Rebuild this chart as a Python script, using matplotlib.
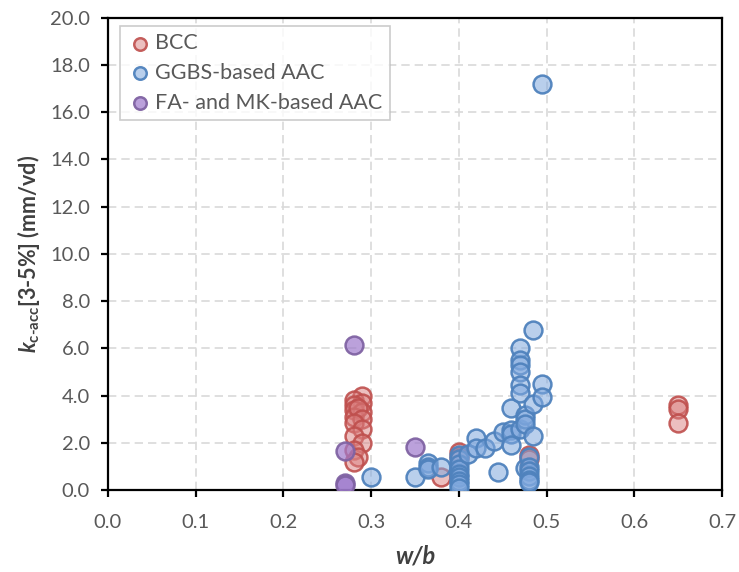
import matplotlib.pyplot as plt
from matplotlib.ticker import MultipleLocator, FormatStrFormatter

plt.rcParams.update({
    'font.family': ['Lato', 'DejaVu Sans'],
    'mathtext.fontset': 'custom',
    'mathtext.rm': 'Lato:bold',
    'mathtext.it': 'Lato:italic:bold',
    'mathtext.bf': 'Lato:bold',
})

# BCC
bcc_x = [0.29, 0.28, 0.29, 0.28, 0.28, 0.29, 0.28, 0.285, 0.29, 0.28, 0.29, 0.28,
         0.29, 0.28, 0.285, 0.28, 0.38, 0.40, 0.40, 0.48, 0.48, 0.65, 0.65, 0.65]
bcc_y = [4.0, 3.8, 3.7, 3.6, 3.4, 3.3, 3.1, 3.5, 3.0, 2.85, 2.6, 2.3,
         2.0, 1.7, 1.4, 1.2, 0.55, 1.6, 1.4, 1.5, 1.3, 3.6, 3.45, 2.85]

# GGBS-based AAC
ggbs_x = [0.30, 0.35, 0.365, 0.365, 0.365, 0.38,
          0.40, 0.40, 0.40, 0.40, 0.40, 0.40, 0.40, 0.40, 0.40,
          0.41, 0.42, 0.42, 0.43, 0.44, 0.445, 0.45, 0.46, 0.46, 0.46, 0.46,
          0.47, 0.47, 0.47, 0.47, 0.47, 0.47, 0.47,
          0.475, 0.475, 0.475, 0.475,
          0.48, 0.48, 0.48, 0.48, 0.48, 0.48,
          0.485, 0.485, 0.485, 0.495, 0.495, 0.495]
ggbs_y = [0.55, 0.55, 1.15, 1.0, 0.9, 1.0,
          1.5, 1.3, 1.1, 0.9, 0.7, 0.55, 0.4, 0.25, 0.1,
          1.55, 2.2, 1.8, 1.8, 2.1, 0.75, 2.45, 2.55, 2.4, 3.5, 1.9,
          6.0, 5.5, 5.3, 5.0, 4.45, 4.1, 2.6,
          3.2, 3.0, 2.8, 0.95,
          1.4, 1.0, 0.8, 0.6, 0.45, 0.35,
          6.8, 3.65, 2.3, 17.2, 4.5, 3.95]

# FA- and MK-based AAC
fa_x = [0.28, 0.27, 0.27, 0.27, 0.35]
fa_y = [6.15, 1.65, 0.3, 0.2, 1.85]

series = [
    (bcc_x, bcc_y, 'BCC', (0.86, 0.50, 0.50, 0.5), (0.75, 0.31, 0.30, 0.9)),
    (ggbs_x, ggbs_y, 'GGBS-based AAC', (0.50, 0.66, 0.87, 0.55), (0.31, 0.51, 0.74, 0.95)),
    (fa_x, fa_y, 'FA- and MK-based AAC', (0.62, 0.48, 0.80, 0.7), (0.50, 0.39, 0.64, 0.95)),
]

fig = plt.figure(figsize=(7.39, 5.72), dpi=100)
ax = fig.add_axes([0.146, 0.143, 0.831, 0.826])

for x, y, label, fc, ec in series:
    ax.scatter(x, y, s=165, facecolor=fc, edgecolor=ec, linewidth=1.8, label=label, zorder=3)

ax.set_xlim(0, 0.7)
ax.set_ylim(0, 20)
ax.xaxis.set_major_locator(MultipleLocator(0.1))
ax.yaxis.set_major_locator(MultipleLocator(2))
ax.xaxis.set_major_formatter(FormatStrFormatter('%.1f'))
ax.yaxis.set_major_formatter(FormatStrFormatter('%.1f'))
ax.grid(True, color='#d9d9d9', linestyle=(0, (5, 3)), linewidth=1.2, zorder=0)
ax.set_axisbelow(True)
for sp in ax.spines.values():
    sp.set_linewidth(1.6)
    sp.set_color('black')
ax.tick_params(direction='out', length=5, width=1.6, labelsize=14.5, labelcolor='#595959', pad=8)
ax.tick_params(axis='x', pad=12)

ax.set_xlabel('w/b', fontsize=17, fontweight='bold', fontstyle='italic', color='#404040', labelpad=10)
ax.set_ylabel(r'$k_{\text{c-acc}}$[3-5%] (mm/vd)', fontsize=15.5, fontweight='bold',
              color='#404040', labelpad=6)

leg = ax.legend(loc='upper left', bbox_to_anchor=(0.012, 0.992), fontsize=15.5, frameon=True,
                fancybox=False, edgecolor='#bfbfbf', handletextpad=0.1, borderpad=0.35,
                labelspacing=0.45, markerscale=0.7, handlelength=1.2, borderaxespad=0.2)
for t in leg.get_texts():
    t.set_color('#595959')
leg.get_frame().set_linewidth(1.2)

fig.savefig('out.png', dpi=100)
